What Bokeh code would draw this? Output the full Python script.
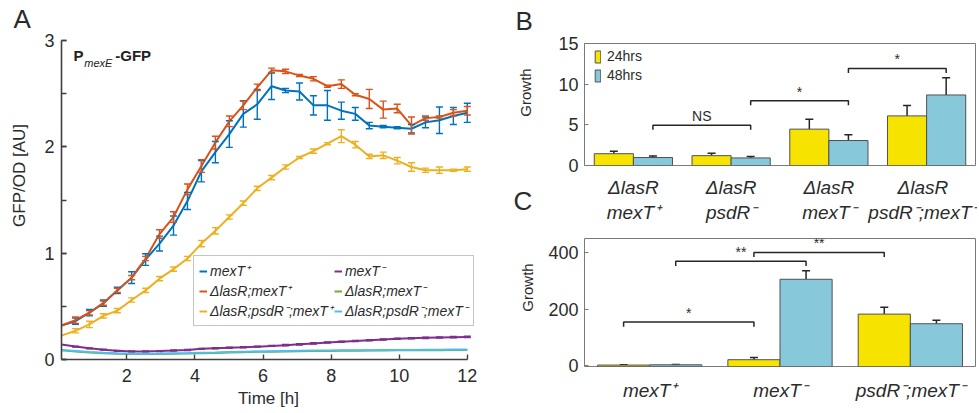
import math
from bokeh.plotting import figure
from bokeh.models import (Range1d, SingleIntervalTicker, FixedTicker, Whisker, TeeHead,
                          ColumnDataSource, Legend, LegendItem, Label)
from bokeh.layouts import row, column
from bokeh.embed import file_html
from bokeh.resources import INLINE
from bokeh.core.properties import value

FONT = "Liberation Sans"
TXT = "#2b2b2b"
H = 412

# ---------------- Panel A data ----------------
times = [0.08, 0.49, 0.90, 1.31, 1.72, 2.14, 2.55, 2.96, 3.37, 3.78,
         4.19, 4.60, 5.01, 5.42, 5.83, 6.25, 6.66, 7.07, 7.48, 7.89,
         8.30, 8.71, 9.12, 9.53, 9.94, 10.36, 10.77, 11.18, 11.59, 12.00]

mexT_plus = [0.32, 0.36, 0.44, 0.53, 0.65, 0.77, 0.94, 1.09, 1.26, 1.49,
             1.77, 1.95, 2.12, 2.31, 2.40, 2.57, 2.53, 2.52, 2.39, 2.39,
             2.34, 2.31, 2.20, 2.19, 2.18, 2.17, 2.23, 2.25, 2.29, 2.32]
mexT_plus_err = [0, 0.03, 0.03, 0.03, 0.03, 0.055, 0.055, 0.07, 0.09, 0.08,
                 0.10, 0.10, 0.125, 0.125, 0.14, 0.125, 0.02, 0.08, 0.09, 0.14,
                 0.08, 0.06, 0.03, 0.01, 0.01, 0.04, 0.05, 0.125, 0.08, 0.09]

lasR_mexT_plus = [0.32, 0.37, 0.44, 0.53, 0.65, 0.77, 0.95, 1.18, 1.34, 1.60,
                  1.82, 2.04, 2.24, 2.39, 2.56, 2.72, 2.71, 2.67, 2.64, 2.57,
                  2.59, 2.49, 2.45, 2.35, 2.36, 2.20, 2.27, 2.28, 2.32, 2.34]
lasR_mexT_plus_err = [0, 0.03, 0.02, 0.02, 0.02, 0.02, 0.02, 0.04, 0.05, 0.05,
                      0.06, 0.06, 0.05, 0.04, 0.03, 0.02, 0.02, 0.01, 0.02, 0.01,
                      0.04, 0.01, 0.09, 0.08, 0.04, 0.08, 0.02, 0.01, 0.03, 0.04]

lasR_psdR_mexT_plus = [0.225, 0.27, 0.33, 0.41, 0.46, 0.56, 0.65, 0.76, 0.85, 0.95,
                       1.09, 1.21, 1.34, 1.47, 1.61, 1.71, 1.81, 1.90, 1.96, 2.03,
                       2.10, 2.02, 1.91, 1.92, 1.87, 1.81, 1.78, 1.78, 1.78, 1.79]
lasR_psdR_mexT_plus_err = [0, 0.02, 0.03, 0.02, 0.02, 0.02, 0.02, 0.02, 0.02, 0.02,
                           0.03, 0.03, 0.02, 0.02, 0.02, 0.02, 0.02, 0.01, 0.02, 0.01,
                           0.06, 0.03, 0.02, 0.03, 0.03, 0.04, 0.02, 0.03, 0.01, 0.02]

mexT_minus = [0.14, 0.122, 0.105, 0.092, 0.082, 0.076, 0.076, 0.079, 0.084, 0.09,
              0.10, 0.105, 0.11, 0.115, 0.121, 0.128, 0.135, 0.143, 0.151, 0.16,
              0.167, 0.174, 0.181, 0.188, 0.195, 0.20, 0.204, 0.207, 0.21, 0.212]
mexT_minus_err = [0, 0.004, 0.004, 0.004, 0.004, 0.004, 0.004, 0.004, 0.005, 0.005,
                  0.005, 0.005, 0.005, 0.005, 0.005, 0.005, 0.006, 0.006, 0.006, 0.006,
                  0.006, 0.006, 0.006, 0.006, 0.006, 0.006, 0.006, 0.006, 0.006, 0.006]

lasR_mexT_minus = [0.086, 0.076, 0.066, 0.059, 0.054, 0.051, 0.051, 0.052, 0.054, 0.056,
                   0.059, 0.062, 0.066, 0.069, 0.072, 0.074, 0.076, 0.078, 0.080, 0.081,
                   0.082, 0.083, 0.084, 0.085, 0.086, 0.086, 0.087, 0.088, 0.089, 0.090]

lasR_psdR_mexT_minus = [0.09, 0.08, 0.07, 0.063, 0.058, 0.055, 0.055, 0.056, 0.058, 0.06,
                        0.063, 0.066, 0.07, 0.073, 0.076, 0.078, 0.08, 0.082, 0.084, 0.085,
                        0.086, 0.087, 0.088, 0.089, 0.09, 0.09, 0.091, 0.092, 0.093, 0.094]

labels_A = ["mexT\u207a", "\u0394lasR;mexT\u207a", "\u0394lasR;psdR\u207b;mexT\u207a",
            "mexT\u207b", "\u0394lasR;mexT\u207b", "\u0394lasR;psdR\u207b;mexT\u207b"]
colors_A = ["#0072BD", "#D95319", "#EDB120", "#7E2F8E", "#77AC30", "#4DBEEE"]

# ---------------- Panel B data ----------------
groups_B = ["\u0394lasR\nmexT\u207a", "\u0394lasR\npsdR\u207b", "\u0394lasR\nmexT\u207b",
            "\u0394lasR\npsdR\u207b;mexT\u207b"]
b_24 = [1.45, 1.21, 4.47, 6.10]
b_24_err = [0.30, 0.31, 1.23, 1.29]
b_48 = [0.98, 0.93, 3.07, 8.67]
b_48_err = [0.19, 0.17, 0.70, 2.13]
# (group from, group to, series, height, text)
brackets_B = [(1, 2, "48", 4.94, "NS"), (2, 3, "48", 7.97, "*"), (3, 4, "48", 11.93, "*")]

# ---------------- Panel C data ----------------
groups_C = ["mexT\u207a", "mexT\u207b", "psdR\u207b;mexT\u207b"]
c_24 = [3, 22, 183]
c_24_err = [1, 8, 24]
c_48 = [4, 306, 149]
c_48_err = [1, 30, 12]
brackets_C = [(1, 2, "24", 155, "*"), (1, 2, "48", 370, "**"), (2, 3, "24", 401, "**")]

YEL = "#F6E400"
CYA = "#87C8DB"
BAR_LINE = "#505050"


def base_style(p):
    p.grid.visible = False
    p.background_fill_color = "white"
    p.border_fill_color = "white"
    for ax in (p.xaxis + p.yaxis):
        ax.major_label_text_font = FONT
        ax.major_label_text_color = TXT
        ax.major_label_text_font_size = "18px"
        ax.axis_label_text_font = FONT
        ax.axis_label_text_color = TXT
        ax.axis_label_text_font_style = "normal"


def strip(width, texts):
    """Narrow text-only strip: panel letters and rotated axis titles."""
    s = figure(width=width, height=H, x_range=Range1d(0, width), y_range=Range1d(0, H),
               x_axis_type=None, y_axis_type=None, output_backend="svg", toolbar_location=None,
               title=None,
               min_border_left=0, min_border_right=0, min_border_top=0, min_border_bottom=0)
    try:
        s.frame_align = False
    except Exception:
        pass
    s.outline_line_color = None
    s.grid.visible = False
    s.border_fill_color = "white"
    for x, y, t, size, ang, align, base in texts:
        s.text(x=[x], y=[y], text=[t], angle=ang, text_align=align, text_baseline=base,
               text_font=value(FONT), text_font_size=size, text_color=TXT)
    return s


# ================= Panel A =================
pa = figure(width=468, height=H, x_range=Range1d(0.08, 12.24), y_range=Range1d(0, 3),
            output_backend="svg", toolbar_location=None, title=None,
            min_border_left=21, min_border_right=33, min_border_top=40, min_border_bottom=53)
base_style(pa)
pa.outline_line_color = None
pa.xaxis.ticker = SingleIntervalTicker(interval=2, num_minor_ticks=0)
pa.xaxis.bounds = (0.08, 12.0)
pa.yaxis.ticker = SingleIntervalTicker(interval=1, num_minor_ticks=2)
for ax in (pa.xaxis + pa.yaxis):
    ax.axis_line_color = "#404040"
    ax.axis_line_width = 1.6
    ax.major_tick_line_color = "#404040"
    ax.minor_tick_line_color = "#404040"
    ax.major_tick_line_width = 1.4
    ax.minor_tick_line_width = 1.4
    ax.major_tick_in = 5
    ax.major_tick_out = 0
    ax.minor_tick_in = 5
    ax.minor_tick_out = 0
pa.yaxis.major_label_standoff = 7
pa.xaxis.major_label_standoff = 9
pa.xaxis.axis_label = "Time [h]"
pa.xaxis.axis_label_text_font_size = "17px"
pa.xaxis.axis_label_standoff = 4

series_A = [
    (mexT_plus, mexT_plus_err),
    (lasR_mexT_plus, lasR_mexT_plus_err),
    (lasR_psdR_mexT_plus, lasR_psdR_mexT_plus_err),
    (mexT_minus, mexT_minus_err),
    (lasR_mexT_minus, None),
    (lasR_psdR_mexT_minus, None),
]
items = []
for (ys, errs), color, lab in zip(series_A, colors_A, labels_A):
    r = pa.line(x=times, y=ys, line_color=color, line_width=2)
    if errs is not None:
        pts = [(t, y, e) for t, y, e in zip(times, ys, errs) if e > 0]
        wsrc = ColumnDataSource(dict(x=[q[0] for q in pts],
                                     lo=[q[1] - q[2] for q in pts],
                                     hi=[q[1] + q[2] for q in pts]))
        w = Whisker(source=wsrc, base="x", lower="lo", upper="hi", dimension="height",
                    line_color=color, line_width=1.4, level="glyph",
                    upper_head=TeeHead(size=7, line_color=color, line_width=1.4),
                    lower_head=TeeHead(size=7, line_color=color, line_width=1.4))
        pa.add_layout(w)
    items.append(LegendItem(label=lab, renderers=[r]))

leg = Legend(items=items, location=(132, 33), orientation="vertical", ncols=2,
             label_text_font=FONT, label_text_font_style="italic", label_text_font_size="14px",
             label_text_line_height=1.0,
             label_text_color=TXT, glyph_width=8, glyph_height=14, label_height=14,
             label_standoff=3, spacing=1, padding=5, margin=0,
             border_line_color="#8c8c8c", border_line_width=1,
             background_fill_color="white", background_fill_alpha=1)
pa.add_layout(leg)

pa.add_layout(Label(x=0.43, y=2.86, text="P", text_baseline="alphabetic", text_font=FONT,
                    text_font_size="15px", text_font_style="bold", text_color="#222222"))
pa.add_layout(Label(x=0.75, y=2.79, text="mexE", text_baseline="alphabetic", text_font=FONT,
                    text_font_size="11px", text_font_style="italic", text_color="#222222"))
pa.add_layout(Label(x=1.66, y=2.86, text="-GFP", text_baseline="alphabetic", text_font=FONT,
                    text_font_size="15px", text_font_style="bold", text_color="#222222"))


# ================= Bar panels =================
def bar_panel(groups, v24, e24, v48, e48, brackets, yr, yticks, height, top, bottom,
              leg_loc, label_standoff_x):
    n = len(groups)
    p = figure(width=437, height=height, x_range=Range1d(0.5, n + 0.5), y_range=Range1d(*yr),
               output_backend="svg", toolbar_location=None, title=None,
               min_border_left=44, min_border_right=2, min_border_top=top, min_border_bottom=bottom)
    base_style(p)
    p.outline_line_color = "#7a7a7a"
    p.outline_line_width = 1
    x24 = [i + 1 - 0.2 for i in range(n)]
    x48 = [i + 1 + 0.2 for i in range(n)]
    r24 = p.vbar(x=x24, top=v24, bottom=yr[0], width=0.4, fill_color=YEL, line_color=BAR_LINE,
                 line_width=1)
    r48 = p.vbar(x=x48, top=v48, bottom=yr[0], width=0.4, fill_color=CYA, line_color=BAR_LINE,
                 line_width=1)
    for xs, vs, es in ((x24, v24, e24), (x48, v48, e48)):
        src = ColumnDataSource(dict(x=xs, lo=vs, hi=[v + e for v, e in zip(vs, es)]))
        p.add_layout(Whisker(source=src, base="x", lower="lo", upper="hi", dimension="height",
                             line_color="#262626", line_width=1.5, lower_head=None,
                             upper_head=TeeHead(size=8, line_color="#262626", line_width=1.5)))
    leg_len = (yr[1] - yr[0]) * 0.037
    bx, by, tx, ty, tt = [], [], [], [], []
    for g1, g2, s, h, t in brackets:
        off = -0.2 if s == "24" else 0.2
        x1, x2 = g1 + off, g2 + off
        bx.append([x1, x1, x2, x2])
        by.append([h - leg_len, h, h, h - leg_len])
        tx.append((x1 + x2) / 2)
        ty.append(h)
        tt.append(t)
    p.multi_line(xs=bx, ys=by, line_color="#262626", line_width=1.5)
    p.text(x=tx, y=ty, text=tt, text_align="center", text_baseline="bottom", y_offset=-1,
           text_font=value(FONT), text_font_size="14px", text_color=TXT)

    p.xaxis.ticker = FixedTicker(ticks=list(range(1, n + 1)))
    p.xaxis.major_label_overrides = {i + 1: g for i, g in enumerate(groups)}
    p.xaxis.major_label_text_font_style = "italic"
    p.xaxis.major_label_text_font_size = "19px"
    p.xaxis.axis_line_color = None
    p.xaxis.major_tick_line_color = None
    p.xaxis.minor_tick_line_color = None
    p.xaxis.major_label_standoff = label_standoff_x
    p.yaxis.ticker = FixedTicker(ticks=yticks)
    p.yaxis.axis_line_color = None
    p.yaxis.major_tick_line_color = "#7a7a7a"
    p.yaxis.major_tick_in = 4
    p.yaxis.major_tick_out = 0
    p.yaxis.minor_tick_line_color = None
    p.yaxis.major_label_standoff = 6
    if leg_loc is not None:
        lg = Legend(items=[LegendItem(label="24hrs", renderers=[r24]),
                           LegendItem(label="48hrs", renderers=[r48])],
                    location=leg_loc, glyph_width=7, glyph_height=15, label_height=15,
                    label_text_line_height=1.0,
                    label_standoff=6, spacing=3, padding=0, margin=0,
                    label_text_font=FONT, label_text_font_size="14px", label_text_color=TXT,
                    border_line_color=None, background_fill_alpha=0)
        p.add_layout(lg)
    return p


pb = bar_panel(groups_B, b_24, b_24_err, b_48, b_48_err, brackets_B, (0, 15), [0, 5, 10, 15],
               225, 43, 54, (10, 82), 5)
pc = bar_panel(groups_C, c_24, c_24_err, c_48, c_48_err, brackets_C, (-2, 450), [0, 200, 400],
               H - 225, 13, H - 225 - 13 - 128, None, 7)

strip_a = strip(40, [
    (13, 394, "A", "26px", 0, "left", "alphabetic"),
    (19, 237, "GFP/OD [AU]", "17px", math.pi / 2, "center", "middle"),
])
strip_bc = strip(32, [
    (7, 392, "B", "26px", 0, "left", "alphabetic"),
    (5, 212, "C", "26px", 0, "left", "alphabetic"),
    (17, 320, "Growth", "15px", math.pi / 2, "center", "middle"),
    (19, 125, "Growth", "15px", math.pi / 2, "center", "middle"),
])

layout = row(strip_a, pa, strip_bc, column(pb, pc))
open("out.html", "w").write(file_html(layout, INLINE))
